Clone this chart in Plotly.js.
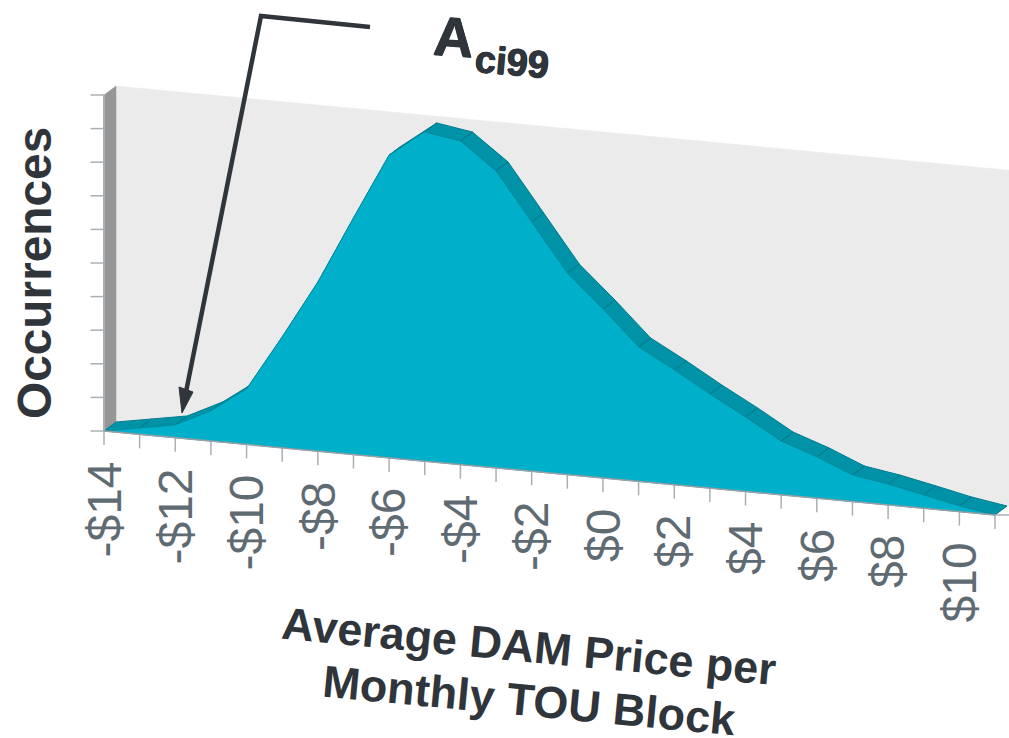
<!DOCTYPE html>
<html>
<head>
<meta charset="utf-8">
<script src="https://cdn.plot.ly/plotly-3.0.0.min.js"></script>
<style>html,body{margin:0;padding:0;background:#fff}#chart{width:1009px;height:738px}</style>
</head>
<body>
<div id="chart"></div>
<script>
// Data
const prices = [-14,-13,-12,-11,-10,-9,-8,-7,-6,-5,-4,-3,-2,-1,0,1,2,3,4,5,6,7,8,9,10,11];
const occurrences = [0,0.19,0.38,0.90,1.65,3.30,5.03,7.04,9.01,9.80,9.63,8.84,7.42,6.00,5.03,4.00,3.42,2.80,2.22,1.60,1.23,0.79,0.62,0.40,0.17,0];
const yTicks = [0,1,2,3,4,5,6,7,8,9,10];
const xLabelPrices = [-14,-12,-10,-8,-6,-4,-2,0,2,4,6,8,10];
const xLabels = ['-$14','-$12','-$10','-$8','-$6','-$4','-$2','$0','$2','$4','$6','$8','$10'];
const yTitle = 'Occurrences';
const xTitleLines = ['Average DAM Price per','Monthly TOU Block'];

// Pseudo-3D: the floor falls to the right, the depth runs up and to the right
const W = 1009, H = 738;
const pxPerDollar = 35.64, pxPerOcc = 33.6, x0px = 104, y0px = 431;
const skew = 0.1, depthX = 0.337, depthY = 0.268;
const xRange = [-14 - x0px/pxPerDollar, -14 + (W-x0px)/pxPerDollar];
const yRange = [(y0px-H)/pxPerOcc, y0px/pxPerOcc];
const sy = (p, v) => v - skew*(p + 14);
const px = x => x/W, py = y => 1 - y/H;

const ribbonX = [], ribbonY = [];
for (let i = 0; i < prices.length-1; i++) {
  const a = prices[i], b = prices[i+1], va = occurrences[i], vb = occurrences[i+1];
  ribbonX.push(a, b, b+depthX, a+depthX, a, null);
  ribbonY.push(sy(a,va), sy(b,vb), sy(b,vb)+depthY, sy(a,va)+depthY, sy(a,va), null);
}
const pMin = prices[0], pMax = prices[prices.length-1], yTop = yTicks[yTicks.length-1];
const traces = [];
const poly = (x,y,fill,line,w) => ({x,y,type:'scatter',mode:'lines',fill:'toself',fillcolor:fill,
  line:{color:line,width:w===undefined?1:w,shape:'linear'},hoverinfo:'skip',showlegend:false});
const lines = (x,y,color,w) => ({x,y,type:'scatter',mode:'lines',line:{color,width:w},hoverinfo:'skip',showlegend:false,connectgaps:false});

// back wall (runs past the right edge of the picture)
const wallR = pMax + 1;
traces.push(poly([pMin+depthX,wallR,wallR,pMin+depthX,pMin+depthX],
  [sy(pMin,0)+depthY, sy(wallR-depthX,0)+depthY, sy(wallR-depthX,yTop)+depthY, sy(pMin,yTop)+depthY, sy(pMin,0)+depthY],'#ebebeb','#ebebeb',0.5));
// left wall
traces.push(poly([pMin,pMin+depthX,pMin+depthX,pMin,pMin],
  [sy(pMin,0),sy(pMin,0)+depthY,sy(pMin,yTop)+depthY,sy(pMin,yTop),sy(pMin,0)],'#969696','#969696',0.5));
// ribbon (top of the area, seen in depth)
traces.push(poly(ribbonX,ribbonY,'#0092a6','#007d90',1));
// front face
traces.push(poly(prices.concat([pMin]),prices.map((p,i)=>sy(p,occurrences[i])).concat([sy(pMin,0)]),'#00afc9','#008ca0',0.9));
// axis lines and tick marks
const tickDrop = 14/pxPerOcc, tickLeft = 13.5/pxPerDollar;
const xtX=[],xtY=[];
prices.forEach(p=>{xtX.push(p,p,null);xtY.push(sy(p,0),sy(p,0)-tickDrop,null);});
const ytX=[],ytY=[];
yTicks.forEach(v=>{ytX.push(pMin-tickLeft,pMin,null);ytY.push(v,v,null);});
traces.push(lines(xtX,xtY,'#a9b0b5',1.5));
traces.push(lines(ytX,ytY,'#a9b0b5',1.5));
traces.push(lines([pMin,pMin],[0,yTop],'#a9b0b5',2));
traces.push(lines([pMin,pMax],[sy(pMin,0),sy(pMax,0)],'#9aa1a5',1.5));
traces.push(lines([pMax,wallR],[sy(pMax,0),sy(pMax,0)],'#a9b0b5',1.5));

const dark = '#2f353a', grey = '#5f6b73', sans = 'Liberation Sans, Arial, sans-serif';
const heavy = '0.6px 0 0 #2f353a, -0.6px 0 0 #2f353a, 0 0.6px 0 #2f353a, 0 -0.6px 0 #2f353a';
const annotations = xLabels.map((t,i)=>({
  text:t, x:xLabelPrices[i], y:sy(xLabelPrices[i],0)-28.5/pxPerOcc, xref:'x', yref:'y',
  xanchor:'center', yanchor:'top', textangle:-90, showarrow:false,
  font:{family:sans,size:48,color:grey}
}));
annotations.push({text:yTitle,x:px(35),y:py(273),xref:'paper',yref:'paper',xanchor:'center',yanchor:'middle',
  textangle:-90,showarrow:false,font:{family:sans,size:47.8,color:dark,weight:700}});
annotations.push({text:xTitleLines[0],x:px(529),y:py(646),xref:'paper',yref:'paper',xanchor:'center',yanchor:'middle',
  textangle:5.4,showarrow:false,font:{family:sans,size:45,color:dark,weight:700}});
annotations.push({text:xTitleLines[1],x:px(529),y:py(700),xref:'paper',yref:'paper',xanchor:'center',yanchor:'middle',
  textangle:5.4,showarrow:false,font:{family:sans,size:45,color:dark,weight:700}});
annotations.push({text:'A',x:px(454),y:py(37),xref:'paper',yref:'paper',xanchor:'center',yanchor:'middle',
  textangle:4,showarrow:false,font:{family:sans,size:55,color:dark,weight:700,shadow:heavy}});
annotations.push({text:'ci99',x:px(512),y:py(62),xref:'paper',yref:'paper',xanchor:'center',yanchor:'middle',
  textangle:5,showarrow:false,font:{family:sans,size:38,color:dark,weight:700,shadow:heavy}});

const poly2path = pts => 'M' + pts.map(q=>px(q[0])+','+py(q[1])).join(' L');
const shapes = [
  {type:'path',xref:'paper',yref:'paper',path:poly2path([[370,27],[261,16],[186,392]]),line:{color:dark,width:4.5},fillcolor:'rgba(0,0,0,0)'},
  {type:'path',xref:'paper',yref:'paper',path:poly2path([[182,413],[179,387],[193,392]])+' Z',line:{color:dark,width:1},fillcolor:dark}
];

Plotly.newPlot('chart',traces,{
  width:W,height:H,margin:{l:0,r:0,t:0,b:0},paper_bgcolor:'#fff',plot_bgcolor:'#fff',showlegend:false,
  xaxis:{range:xRange,visible:false,fixedrange:true},
  yaxis:{range:yRange,visible:false,fixedrange:true},
  annotations,shapes
},{displayModeBar:false,staticPlot:true});
</script>
</body>
</html>
